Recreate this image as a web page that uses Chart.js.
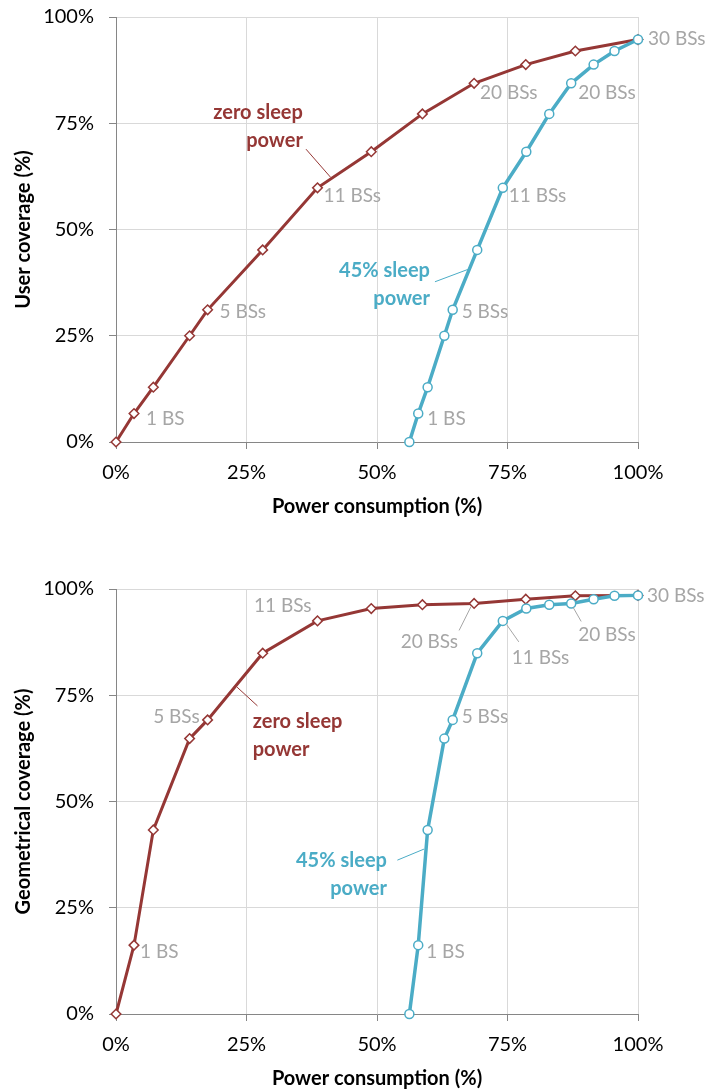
<!DOCTYPE html>
<html>
<head>
<meta charset="utf-8">
<script src="https://cdn.jsdelivr.net/npm/chart.js@4"></script>
<style>
  html, body { margin: 0; padding: 0; background: #fff; }
  canvas { position: absolute; left: 0; }
  #userChart { top: 0; }
  #geoChart { top: 546px; }
</style>
</head>
<body>
<canvas id="userChart" width="705" height="546"></canvas>
<canvas id="geoChart" width="705" height="546"></canvas>
<script>
// ---- data -------------------------------------------------------------
// Axis ticks (percent)
const powerTicks = [0, 25, 50, 75, 100];
const coverageTicks = [0, 25, 50, 75, 100];

// Power consumption (%) for each number of active base stations
const powerZeroSleep = [0, 3.45, 7.15, 14.1, 17.55, 28.1, 38.6, 48.9, 58.7, 68.6, 78.5, 88.0, 100];
const power45Sleep   = [56.2, 57.9, 59.7, 62.9, 64.5, 69.2, 74.1, 78.6, 83.0, 87.2, 91.5, 95.5, 100];

// Coverage (%) reached with the same base-station sets
const userCoverage = [0, 6.7, 12.9, 25.0, 31.1, 45.2, 59.8, 68.3, 77.2, 84.4, 88.8, 92.0, 94.7];
const geoCoverage  = [0, 16.2, 43.3, 64.8, 69.2, 84.9, 92.5, 95.4, 96.3, 96.6, 97.6, 98.4, 98.5];

// Base-station count notes beside selected points
const zeroSleepNotes = ['', '1 BS', '', '', '5 BSs', '', '11 BSs', '', '', '20 BSs', '', '', ''];
const sleep45Notes   = ['', '1 BS', '', '', '5 BSs', '', '11 BSs', '', '', '20 BSs', '', '', '30 BSs'];

// Series names
const zeroSleepName = ['zero sleep', 'power'];
const sleep45Name   = ['45% sleep', 'power'];

// ---- styling ----------------------------------------------------------
const FONT = 'Lato, "Open Sans", sans-serif';
const RED = '#953735';
const TEAL = '#4bacc6';
const NOTE_GREY = '#a6a6a6';

// Pixel offsets of each note relative to its point
const userNoteLayout = {
  zero: { 1: { dx: 12, dy: 5 }, 4: { dx: 12, dy: 2 }, 6: { dx: 6, dy: 8 }, 9: { dx: 6, dy: 10 } },
  sleep: { 1: { dx: 9, dy: 5 }, 4: { dx: 9, dy: 2 }, 6: { dx: 6, dy: 8 }, 9: { dx: 7, dy: 10 }, 12: { dx: 10, dy: -1 } }
};
const geoNoteLayout = {
  zero: {
    1: { dx: 6, dy: 7 },
    4: { dx: -8, dy: -3, align: 'right' },
    6: { dx: -6, dy: -15, align: 'right' },
    9: { dx: -16, dy: 38, align: 'right', leader: [-15, 27, -3, 3] }
  },
  sleep: {
    1: { dx: 8, dy: 7 },
    4: { dx: 9, dy: -3 },
    6: { dx: 9, dy: 37, leader: [16, 21, 4, 4] },
    9: { dx: 7, dy: 31, leader: [10, 18, 2, 4] },
    12: { dx: 9, dy: 0 }
  }
};

// Series-name placement in data units, with a leader line
const userNameLayout = [
  { lines: zeroSleepName, color: RED, align: 'right', x: 35.8, y: 77.5, leader: [36.4, 68.9, 41.1, 62.3] },
  { lines: sleep45Name, color: TEAL, align: 'right', x: 60.15, y: 40.3, leader: [61.1, 37.7, 67.4, 40.6] }
];
const geoNameLayout = [
  { lines: zeroSleepName, color: RED, align: 'left', x: 26.2, y: 68.8, leader: [27.1, 72.5, 23.2, 76.9] },
  { lines: sleep45Name, color: TEAL, align: 'right', x: 51.9, y: 36.0, leader: [53.9, 36.2, 59.0, 38.8] }
];

// ---- annotation plugin -----------------------------------------------
const annotations = {
  id: 'annotations',
  afterDatasetsDraw(chart, args, opts) {
    const ctx = chart.ctx;
    const xs = chart.scales.x, ys = chart.scales.y;
    ctx.save();
    ctx.textBaseline = 'middle';

    // series names
    for (const n of opts.names) {
      const px = xs.getPixelForValue(n.x), py = ys.getPixelForValue(n.y);
      ctx.font = 'bold 20px ' + FONT;
      ctx.fillStyle = n.color;
      ctx.textAlign = n.align;
      n.lines.forEach((t, i) => ctx.fillText(t, px, py + i * 28));
      const [x1, y1, x2, y2] = n.leader;
      ctx.strokeStyle = n.color;
      ctx.lineWidth = 1;
      ctx.beginPath();
      ctx.moveTo(xs.getPixelForValue(x1), ys.getPixelForValue(y1));
      ctx.lineTo(xs.getPixelForValue(x2), ys.getPixelForValue(y2));
      ctx.stroke();
    }

    // base-station notes
    ctx.font = '19px ' + FONT;
    chart.data.datasets.forEach((ds, di) => {
      const meta = chart.getDatasetMeta(di);
      const layout = opts.notes[ds.key];
      meta.data.forEach((pt, i) => {
        const text = ds.notes[i];
        if (!text) return;
        const o = layout[i] || { dx: 8, dy: 0 };
        ctx.fillStyle = NOTE_GREY;
        ctx.textAlign = o.align || 'left';
        ctx.fillText(text, pt.x + o.dx, pt.y + o.dy);
        if (o.leader) {
          ctx.strokeStyle = NOTE_GREY;
          ctx.lineWidth = 1;
          ctx.beginPath();
          ctx.moveTo(pt.x + o.leader[0], pt.y + o.leader[1]);
          ctx.lineTo(pt.x + o.leader[2], pt.y + o.leader[3]);
          ctx.stroke();
        }
      });
    });
    ctx.restore();
  }
};

// ---- chart builder ----------------------------------------------------
function makeChart(id, coverage, yTitle, plotTop, xAxisHeight, xTitlePad, noteLayout, nameLayout) {
  const pts = (xsArr) => xsArr.map((x, i) => ({ x, y: coverage[i] }));
  return new Chart(document.getElementById(id), {
    type: 'line',
    data: {
      datasets: [
        {
          key: 'sleep',
          notes: sleep45Notes,
          data: pts(power45Sleep),
          order: 0,
          borderColor: TEAL,
          borderWidth: 3.5,
          pointStyle: 'circle',
          pointRadius: 4.5,
          pointBorderWidth: 1.5,
          pointBorderColor: TEAL,
          pointBackgroundColor: '#fff',
          tension: 0,
          clip: false
        },
        {
          key: 'zero',
          notes: zeroSleepNotes,
          data: pts(powerZeroSleep),
          order: 1,
          borderColor: RED,
          borderWidth: 3,
          pointStyle: 'rectRot',
          pointRadius: 4.8,
          pointBorderWidth: 1.5,
          pointBorderColor: RED,
          pointBackgroundColor: '#fff',
          tension: 0,
          clip: false
        }
      ]
    },
    options: {
      responsive: false,
      animation: false,
      events: [],
      layout: { padding: { top: plotTop, right: 67, left: 0, bottom: 0 } },
      plugins: {
        legend: { display: false },
        tooltip: { enabled: false },
        annotations: { notes: noteLayout, names: nameLayout }
      },
      scales: {
        x: {
          type: 'linear',
          min: 0, max: 100,
          afterBuildTicks: s => { s.ticks = powerTicks.map(v => ({ value: v })); },
          afterFit: s => { s.height = xAxisHeight; s.paddingLeft = 0; s.paddingRight = 0; },
          ticks: {
            callback: v => v + '%',
            font: { family: FONT, size: 20 },
            color: '#000',
            padding: 12,
            maxRotation: 0
          },
          grid: { color: '#d9d9d9', tickColor: '#868686', tickLength: 7, lineWidth: 1 },
          border: { color: '#868686', width: 1 },
          title: {
            display: true,
            text: 'Power consumption (%)',
            font: { family: FONT, size: 20, weight: 'bold' },
            color: '#000',
            padding: { top: 0, bottom: xTitlePad }
          }
        },
        y: {
          type: 'linear',
          min: 0, max: 100,
          afterBuildTicks: s => { s.ticks = coverageTicks.map(v => ({ value: v })); },
          afterFit: s => { s.width = 116; s.paddingTop = 0; s.paddingBottom = 0; },
          ticks: {
            callback: v => v + '%',
            font: { family: FONT, size: 20 },
            color: '#000',
            padding: 15
          },
          grid: { color: '#d9d9d9', tickColor: '#868686', tickLength: 7, lineWidth: 1 },
          border: { color: '#868686', width: 1 },
          title: {
            display: true,
            text: yTitle,
            font: { family: FONT, size: 20, weight: 'bold' },
            color: '#000',
            padding: { top: 12, bottom: 0 }
          }
        }
      }
    },
    plugins: [annotations]
  });
}

makeChart('userChart', userCoverage, 'User coverage (%)', 17, 104, 27, userNoteLayout, userNameLayout);
makeChart('geoChart', geoCoverage, 'Geometrical coverage (%)', 43, 78, 1, geoNoteLayout, geoNameLayout);
</script>
</body>
</html>
